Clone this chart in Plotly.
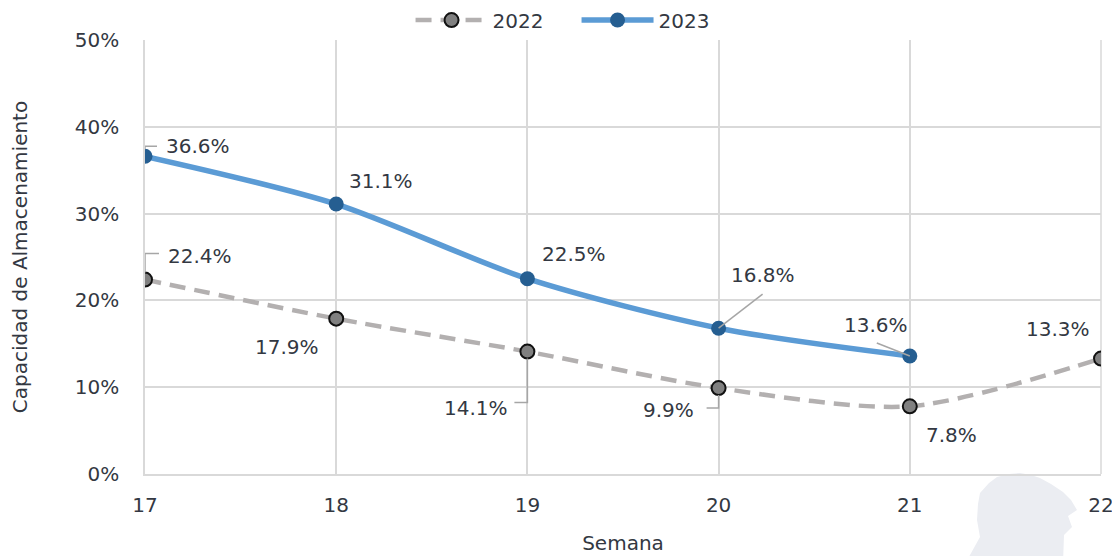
import plotly.graph_objects as go

weeks_2022 = [17, 18, 19, 20, 21, 22]
vals_2022 = [22.4, 17.9, 14.1, 9.9, 7.8, 13.3]
weeks_2023 = [17, 18, 19, 20, 21]
vals_2023 = [36.6, 31.1, 22.5, 16.8, 13.6]
y_ticks = [0, 10, 20, 30, 40, 50]
y_tick_labels = ["0%", "10%", "20%", "30%", "40%", "50%"]

FONT = "DejaVu Sans"
TXT = "#333842"
LEAD = "#a6a6a6"

fig = go.Figure()
fig.add_trace(go.Scatter(
    x=weeks_2022, y=vals_2022, name="2022", mode="lines+markers",
    line=dict(color="#b3b0b0", width=4.5, dash="16px,9px", shape="spline", smoothing=0.8),
    marker=dict(size=14, color="#808080", line=dict(color="#111111", width=2)),
))
fig.add_trace(go.Scatter(
    x=weeks_2023, y=vals_2023, name="2023", mode="lines+markers",
    line=dict(color="#5b9bd5", width=5.5, shape="spline", smoothing=0.8),
    marker=dict(size=15, color="#255e91"),
))

# label offsets in pixels (dx right, dy up) and leader paths (pixel, relative to the point)
offs_2023 = [(53, 10), (45, 23), (47, 25), (44, 53), (-34, 31)]
lead_2023 = ["M 0 7 L 0 10 L 12 10", None, None, "M 0 0 L 44 34", "M 0 0 L -33 13"]
offs_2022 = [(55, 24), (-49, -28), (-51, -56), (-50, -22), (42, -29), (-43, 30)]
lead_2022 = ["M 0 7 L 0 26 L 14 26", None, "M 0 -7 L 0 -51 L -13 -51", "M 0 -7 L 0 -20 L -12 -20", None, None]

annotations = []
shapes = []
for xs, ys, offs, leads in [(weeks_2023, vals_2023, offs_2023, lead_2023),
                            (weeks_2022, vals_2022, offs_2022, lead_2022)]:
    for xv, yv, (dx, dy), lp in zip(xs, ys, offs, leads):
        annotations.append(dict(
            x=xv, y=yv, xref="x", yref="y", text=f"{yv:.1f}%", showarrow=False,
            xshift=dx, yshift=dy, font=dict(family=FONT, size=20, color=TXT),
        ))
        if lp:
            shapes.append(dict(
                type="path", xref="x", yref="y", xsizemode="pixel", ysizemode="pixel",
                xanchor=xv, yanchor=yv, path=lp, line=dict(color=LEAD, width=1.5),
                layer="above",
            ))

shapes.append(dict(type="line", xref="paper", yref="paper", x0=1, x1=1, y0=0, y1=1,
                   line=dict(color="#d9d9d9", width=1.5), layer="below"))

# faint watermark silhouette in the lower right corner
shapes.append(dict(
    type="path", xref="paper", yref="paper", xsizemode="pixel", ysizemode="pixel",
    xanchor=1, yanchor=0,
    path=("M -104 -3 L -92 0 L -81 1 L -70 -1 L -61 -4 L -50 -10 L -38 -18 L -30 -26 "
          "L -24 -36 L -33 -42 L -29 -53 L -37 -61 L -38 -90 L -136 -90 L -121 -63 "
          "L -124 -46 L -123 -30 L -121 -19 L -112 -9 Z"),
    fillcolor="#ebedf2", line=dict(width=0), layer="below",
))

fig.update_layout(
    width=1112, height=548,
    margin=dict(l=137, r=19, t=32, b=82),
    paper_bgcolor="white", plot_bgcolor="white",
    font=dict(family=FONT, size=20, color=TXT),
    legend=dict(orientation="h", xref="container", yref="container",
                x=0.362, xanchor="left", y=0.978, yanchor="middle",
                font=dict(size=20, color=TXT), itemwidth=72, entrywidth=79,
                bgcolor="rgba(0,0,0,0)"),
    annotations=annotations,
    shapes=shapes,
    xaxis=dict(
        range=[17, 22], dtick=1, tick0=17, showgrid=True, gridcolor="#d9d9d9", gridwidth=1.5,
        showline=True, linecolor="#d9d9d9", linewidth=1.5, zeroline=False, automargin=False,
        ticks="", ticklabelstandoff=12, tickfont=dict(size=20, color=TXT),
        title=dict(text="Semana", font=dict(size=20, color=TXT), standoff=20),
    ),
    yaxis=dict(
        range=[0, 50], tickvals=y_ticks, ticktext=y_tick_labels,
        showgrid=True, gridcolor="#d9d9d9", gridwidth=1.5,
        showline=True, linecolor="#d9d9d9", linewidth=1.5, zeroline=False, automargin=False,
        ticks="", ticklabelstandoff=20, tickfont=dict(size=20, color=TXT),
        title=dict(text="Capacidad de Almacenamiento", font=dict(size=20, color=TXT), standoff=42),
    ),
)

fig.write_html("out.html")
